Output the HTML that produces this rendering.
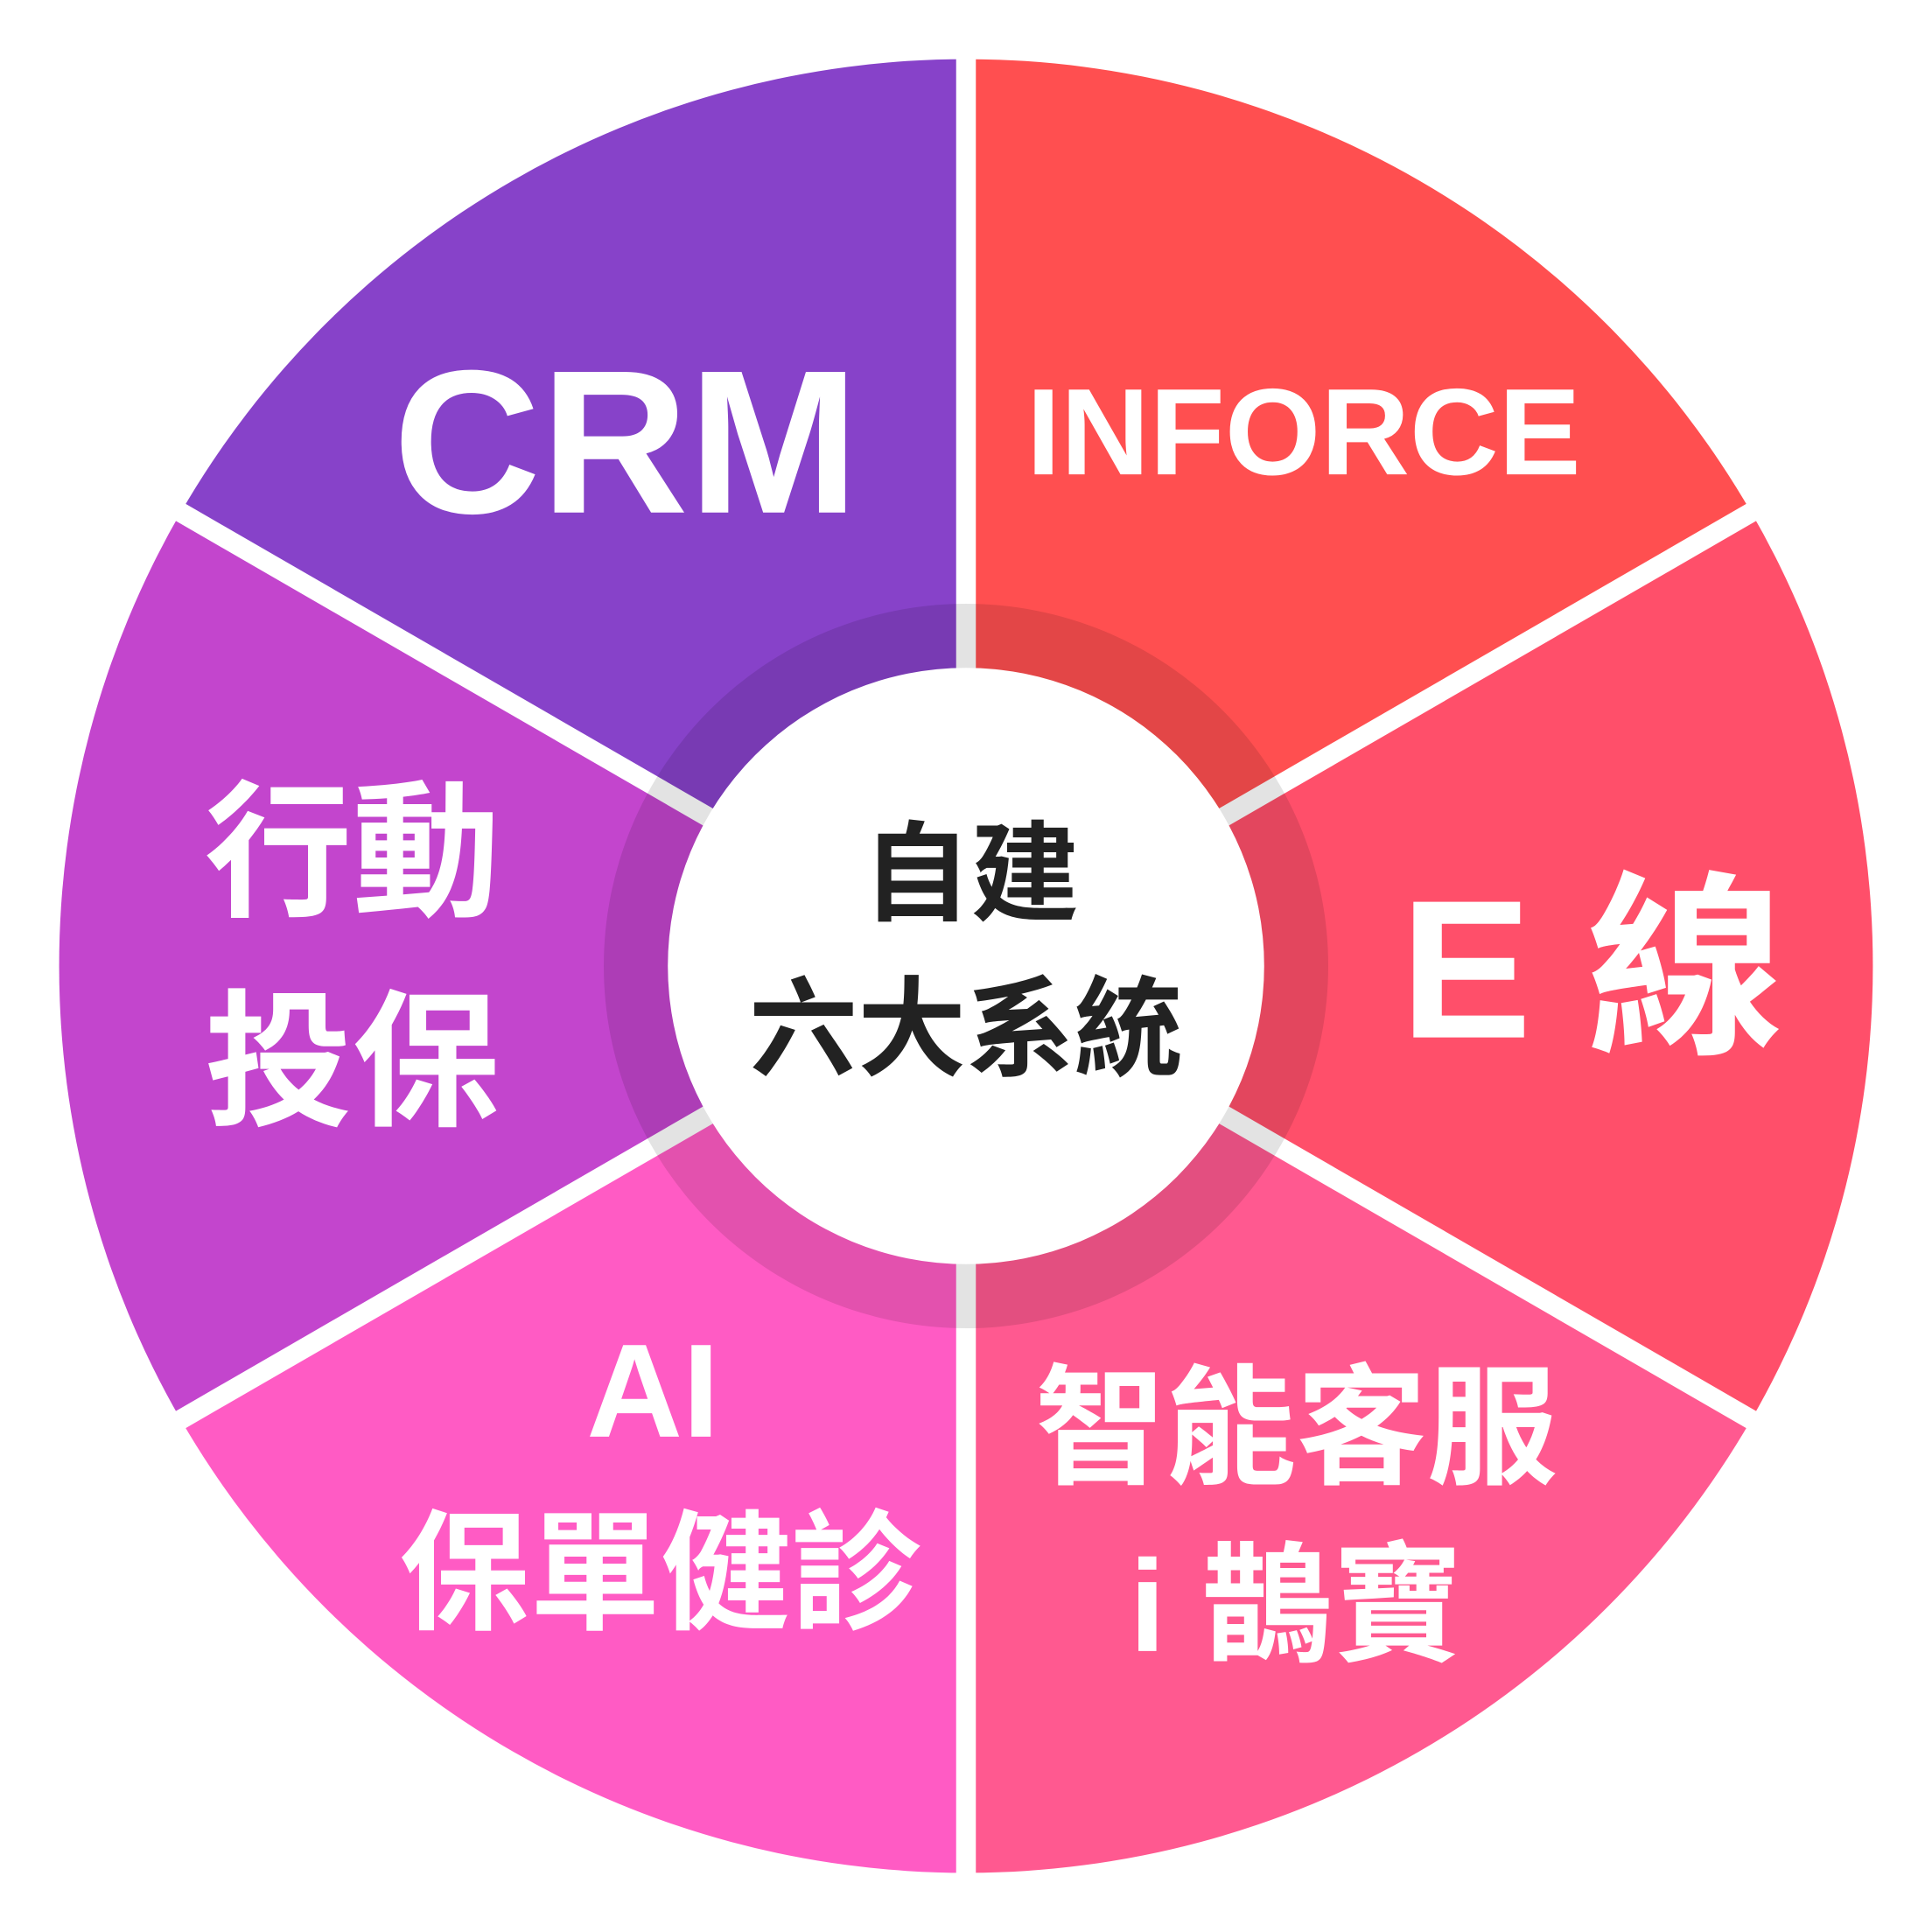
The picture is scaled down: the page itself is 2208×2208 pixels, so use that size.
<!DOCTYPE html>
<html><head><meta charset="utf-8"><style>
html,body{margin:0;padding:0;background:#fff;}
svg{display:block;}
text{font-family:"Liberation Sans","Noto Sans CJK TC",sans-serif;font-weight:700;}
</style></head><body>
<svg width="2208" height="2208" viewBox="0 0 1568 1568" xmlns="http://www.w3.org/2000/svg">
<rect width="1568" height="1568" fill="#fff"/>
<path d="M784,784 L784,48 A736,736 0 0 0 146.6,416 Z" fill="#8742C9"/>
<path d="M784,784 L1421.4,416 A736,736 0 0 0 784,48 Z" fill="#FF4F50"/>
<path d="M784,784 L1421.4,1152 A736,736 0 0 0 1421.4,416 Z" fill="#FF4F6A"/>
<path d="M784,784 L784,1520 A736,736 0 0 0 1421.4,1152 Z" fill="#FF5990"/>
<path d="M784,784 L146.6,1152 A736,736 0 0 0 784,1520 Z" fill="#FF5BC4"/>
<path d="M784,784 L146.6,416 A736,736 0 0 0 146.6,1152 Z" fill="#C345CD"/>
<g stroke="#fff" stroke-width="16">
<line x1="784" y1="784" x2="784" y2="40"/>
<line x1="784" y1="784" x2="784" y2="1528"/>
<line x1="784" y1="784" x2="1428" y2="412"/>
<line x1="784" y1="784" x2="1428" y2="1156"/>
<line x1="784" y1="784" x2="140" y2="412"/>
<line x1="784" y1="784" x2="140" y2="1156"/>
</g>
<circle cx="784" cy="784" r="294" fill="#000" fill-opacity="0.11"/>
<circle cx="784" cy="784" r="242" fill="#fff"/>
<g fill="#fff">
<text x="508" y="416" font-size="166" text-anchor="middle">CRM</text>
<text x="1058" y="385" font-size="100" text-anchor="middle">INFORCE</text>
<text x="1292" y="842" font-size="160" text-anchor="middle">E 線</text>
<text x="286" y="734" font-size="120" text-anchor="middle">行動</text>
<text x="286" y="904" font-size="120" text-anchor="middle">投保</text>
<text x="530" y="1166" font-size="108" text-anchor="middle">AI</text>
<text x="536" y="1314" font-size="106" text-anchor="middle">保單健診</text>
<text x="1052" y="1196" font-size="106" text-anchor="middle">智能客服</text>
<text x="1052" y="1340" font-size="106" text-anchor="middle">i 鵲寶</text>
</g>
<g fill="#222">
<text x="788" y="740" font-size="88" text-anchor="middle">自建</text>
<text x="784" y="866" font-size="88" text-anchor="middle">六大系統</text>
</g>
</svg>
</body></html>
